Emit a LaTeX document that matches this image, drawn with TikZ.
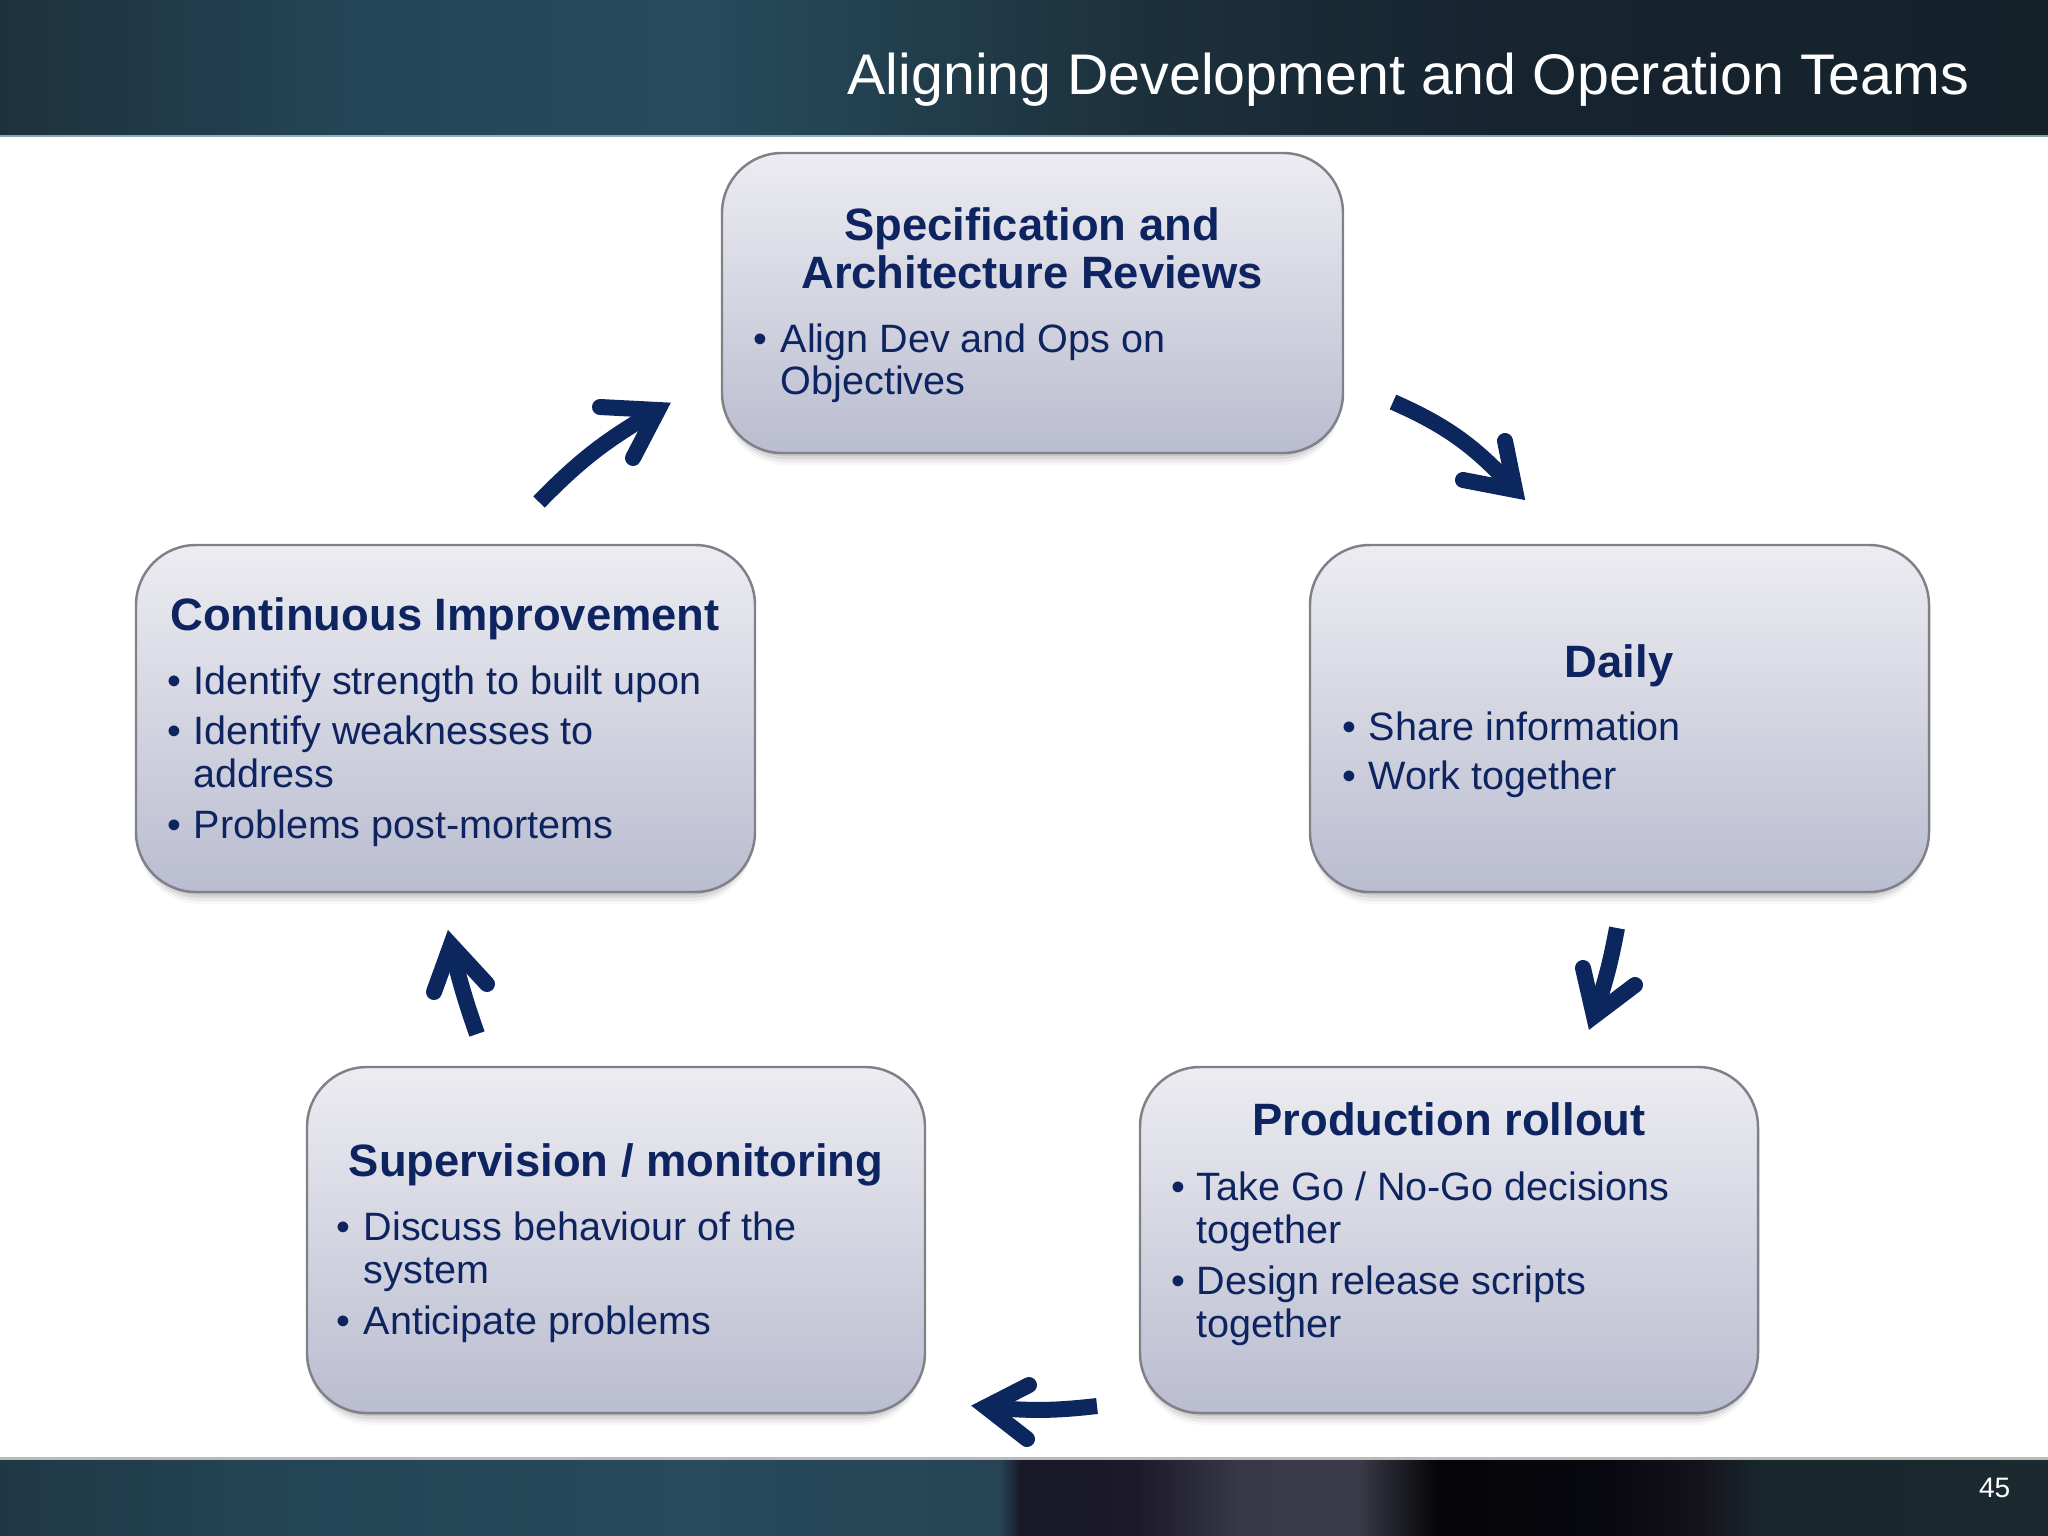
\documentclass[tikz,border=0pt]{standalone}
\usepackage{fontspec}
\setmainfont{Liberation Sans}
\usetikzlibrary{calc}
\definecolor{navy}{RGB}{14,36,96}
\definecolor{arrnavy}{RGB}{11,39,94}
\definecolor{boxtop}{RGB}{236,236,241}
\definecolor{boxbot}{RGB}{186,189,208}
\definecolor{boxborder}{RGB}{128,128,136}
\definecolor{tb0}{HTML}{1D313D}
\definecolor{tb1}{HTML}{244557}
\definecolor{tb2}{HTML}{274B5D}
\definecolor{tb3}{HTML}{1C303B}
\definecolor{tb4}{HTML}{162430}
\definecolor{tb5}{HTML}{15222A}
\definecolor{bb0}{HTML}{1F3846}
\definecolor{bb1}{HTML}{244556}
\definecolor{bb2}{HTML}{284A5C}
\definecolor{bb3}{HTML}{264456}
\definecolor{bb4}{HTML}{181826}
\definecolor{bb5}{HTML}{1C1A28}
\definecolor{bb6}{HTML}{383846}
\definecolor{bb7}{HTML}{3A3A48}
\definecolor{bb8}{HTML}{050508}
\definecolor{bb9}{HTML}{080810}
\definecolor{bb10}{HTML}{14131C}
\definecolor{bb11}{HTML}{18272C}
\definecolor{bb12}{HTML}{1A2A30}
\tikzset{
  boxsty/.style={draw=boxborder, line width=0.7pt, rounded corners=0.6cm,
    top color=boxtop, bottom color=boxbot, inner sep=0pt, outer sep=0pt},
  head/.style={font=\bfseries\fontsize{12.9pt}{15pt}\selectfont, text=navy, inner sep=0pt, anchor=base},
  bodyt/.style={font=\fontsize{11.25pt}{13pt}\selectfont, text=navy, inner sep=0pt, anchor=base west},
  bul/.style={font=\fontsize{11.25pt}{13pt}\selectfont, text=navy, inner sep=0pt, anchor=base},
  shaft/.style={draw=arrnavy, line width=4.55pt, line cap=butt},
  arrhead/.style={draw=arrnavy, line width=4.55pt, line cap=round, line join=miter, miter limit=10},
}
\newcommand{\mybox}[5]{%
  \foreach \s/\o in {12/0.03,9/0.05,6/0.07,3/0.09}{%
    \fill[black,opacity=\o,rounded corners=0.62cm] ({#2-#4/2+2},{#3-#5/2+\s}) rectangle ({#2+#4/2-2},{#3+#5/2+\s});}
  \node[boxsty, minimum width={#4*0.01cm}, minimum height={#5*0.01cm}] (#1) at (#2,#3) {};
}
\begin{document}
\begin{tikzpicture}[x=0.01cm,y=-0.01cm]
\useasboundingbox (0,0) rectangle (2048,1536);
\fill[white] (0,0) rectangle (2048,1536);
% top bar
\shade[left color=tb0,right color=tb1] (0,0) rectangle (351,136);
\shade[left color=tb1,right color=tb2] (350,0) rectangle (701,136);
\shade[left color=tb2,right color=tb3] (700,0) rectangle (1151,136);
\shade[left color=tb3,right color=tb4] (1150,0) rectangle (1501,136);
\shade[left color=tb4,right color=tb5] (1500,0) rectangle (2048,136);
\fill[cyan!15!white,opacity=0.6] (0,135) rectangle (2048,137);
% bottom bar
\shade[left color=bb0,right color=bb1] (0,1458) rectangle (301,1536);
\shade[left color=bb1,right color=bb2] (300,1458) rectangle (701,1536);
\shade[left color=bb2,right color=bb3] (700,1458) rectangle (1001,1536);
\shade[left color=bb3,right color=bb4] (1000,1458) rectangle (1021,1536);
\shade[left color=bb4,right color=bb5] (1020,1458) rectangle (1137,1536);
\shade[left color=bb5,right color=bb6] (1136,1458) rectangle (1242,1536);
\shade[left color=bb6,right color=bb7] (1241,1458) rectangle (1359,1536);
\shade[left color=bb7,right color=bb8] (1358,1458) rectangle (1438,1536);
\shade[left color=bb8,right color=bb9] (1437,1458) rectangle (1607,1536);
\shade[left color=bb9,right color=bb10] (1606,1458) rectangle (1701,1536);
\shade[left color=bb10,right color=bb11] (1700,1458) rectangle (1761,1536);
\shade[left color=bb11,right color=bb12] (1760,1458) rectangle (2048,1536);
\fill[gray!55] (0,1457) rectangle (2048,1459.5);
% title and page number
\node[font=\fontsize{16.3pt}{19pt}\selectfont, text=white, inner sep=0pt, anchor=base east] (title) at (1970,94) {Aligning Development and Operation Teams};
\node[font=\fontsize{8pt}{10pt}\selectfont, text=white, inner sep=0pt, anchor=base east] (pagenum) at (2011,1497) {45};
% boxes
\mybox{spec}{1032.5}{303}{621}{300}
\mybox{daily}{1619.5}{718.5}{619}{347}
\mybox{prod}{1449}{1240}{618}{346}
\mybox{sup}{616}{1240}{618}{346}
\mybox{cont}{445.5}{718.5}{619}{347}
% spec text
\node[head] (spec-h1) at (1032,240) {Specification and};
\node[head] (spec-h2) at (1032,288) {Architecture Reviews};
\node[bul] (spec-b1) at (760,352) {•};
\node[bodyt] (spec-t1) at (780,352) {Align Dev and Ops on};
\node[bodyt] (spec-t2) at (780,394) {Objectives};
% daily text
\node[head] (daily-h) at (1619,677) {Daily};
\node[bul] (daily-b1) at (1349,740) {•};
\node[bodyt] (daily-t1) at (1368,740) {Share information};
\node[bul] (daily-b2) at (1349,789) {•};
\node[bodyt] (daily-t2) at (1368,789) {Work together};
% continuous text
\node[head] (cont-h) at (445,630) {Continuous Improvement};
\node[bul] (cont-b1) at (174,694) {•};
\node[bodyt] (cont-t1) at (193,694) {Identify strength to built upon};
\node[bul] (cont-b2) at (174,744) {•};
\node[bodyt] (cont-t2) at (193,744) {Identify weaknesses to};
\node[bodyt] (cont-t3) at (193,787) {address};
\node[bul] (cont-b3) at (174,838) {•};
\node[bodyt] (cont-t4) at (193,838) {Problems post-mortems};
% production text
\node[head] (prod-h) at (1449,1135) {Production rollout};
\node[bul] (prod-b1) at (1178,1200) {•};
\node[bodyt] (prod-t1) at (1196,1200) {Take Go / No-Go decisions};
\node[bodyt] (prod-t2) at (1196,1243) {together};
\node[bul] (prod-b2) at (1178,1294) {•};
\node[bodyt] (prod-t3) at (1196,1294) {Design release scripts};
\node[bodyt] (prod-t4) at (1196,1337) {together};
% supervision text
\node[head] (sup-h) at (616,1176) {Supervision / monitoring};
\node[bul] (sup-b1) at (343,1240) {•};
\node[bodyt] (sup-t1) at (363,1240) {Discuss behaviour of the};
\node[bodyt] (sup-t2) at (363,1283) {system};
\node[bul] (sup-b2) at (343,1334) {•};
\node[bodyt] (sup-t3) at (363,1334) {Anticipate problems};
% arrow coordinates
\coordinate (a1t) at (1393,402); \coordinate (a1v) at (1515,490);
\coordinate (a1l) at (1505,441); \coordinate (a1r) at (1463,480);
\coordinate (a2t) at (1617,928); \coordinate (a2v) at (1594,1016);
\coordinate (a2l) at (1583,968); \coordinate (a2r) at (1635,985);
\coordinate (a3t) at (1097,1406); \coordinate (a3v) at (986,1407);
\coordinate (a3l) at (1029,1385); \coordinate (a3r) at (1027,1439);
\coordinate (a4t) at (477,1034); \coordinate (a4v) at (451,945);
\coordinate (a4l) at (434,992); \coordinate (a4r) at (487,984);
\coordinate (a5t) at (539,502); \coordinate (a5v) at (658,410);
\coordinate (a5l) at (600,407); \coordinate (a5r) at (633,458);
% arrows
\draw[shaft] (a1t) to[bend left=12] (a1v);
\draw[arrhead] (a1l) -- (a1v) -- (a1r);
\draw[shaft] (a2t) to[bend left=4] (a2v);
\draw[arrhead] (a2l) -- (a2v) -- (a2r);
\draw[shaft] (a3t) to[bend left=6] (a3v);
\draw[arrhead] (a3l) -- (a3v) -- (a3r);
\draw[shaft] (a4t) to[bend left=3] (a4v);
\draw[arrhead] (a4l) -- (a4v) -- (a4r);
\draw[shaft] (a5t) to[bend left=8] (a5v);
\draw[arrhead] (a5l) -- (a5v) -- (a5r);
\end{tikzpicture}
\end{document}
